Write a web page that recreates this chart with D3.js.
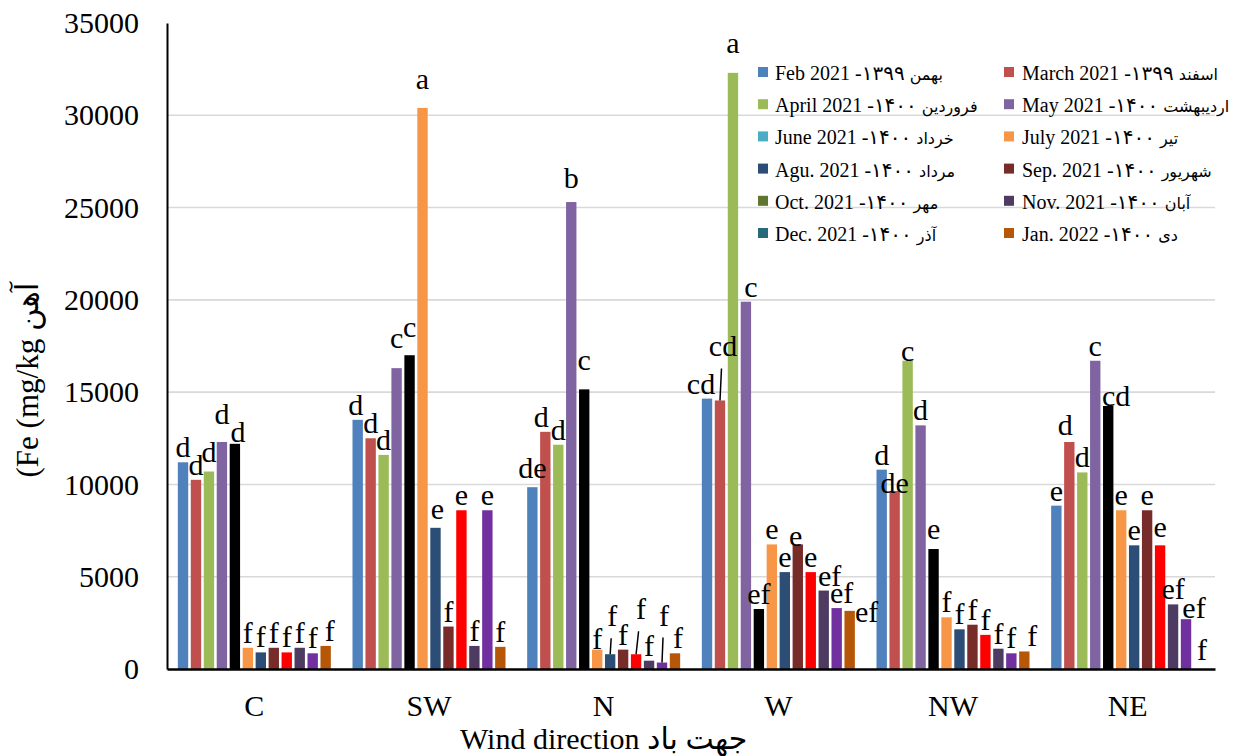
<!DOCTYPE html>
<html>
<head>
<meta charset="utf-8">
<script src="https://cdn.jsdelivr.net/npm/d3@7"></script>
<style>
  html, body { margin: 0; padding: 0; background: #fff; }
  svg { display: block; }
  text { font-family: "Liberation Serif", "Times New Roman", "DejaVu Sans", serif; fill: #000; }
</style>
</head>
<body>
<svg id="chart" width="1240" height="756"></svg>
<script>
// Wind-direction sectors
const categories = ["C", "SW", "N", "W", "NW", "NE"];

// Fe concentration (mg/kg) per sampling month, one value per sector
const feb = [11200, 13500, 9850, 14650, 10800, 8850];
const mar = [10250, 12500, 12850, 14550, 9650, 12300];
const apr = [10700, 11600, 12150, 32300, 16700, 10650];
const may = [12300, 16300, 25300, 19900, 13200, 16700];
const jun = [12200, 17000, 15150, 3250, 6500, 14250];
const jul = [1150, 30400, 1050, 6750, 2800, 8600];
const aug = [900, 7650, 800, 5250, 2150, 6700];
const sep = [1150, 2300, 1050, 6750, 2400, 8600];
const oct = [900, 8600, 800, 5250, 1850, 6700];
const nov = [1150, 1250, 450, 4250, 1100, 3500];
const dec = [850, 8600, 350, 3300, 850, 2700];
const jan = [1250, 1200, 850, 3150, 950, 0];

// Significance letters per month, one per sector
const lettersFeb = ["d", "d", "de", "cd", "d", "e"];
const lettersMar = ["d", "d", "d", "cd", "de", "d"];
const lettersApr = ["d", "d", "d", "a", "c", "d"];
const lettersMay = ["d", "c", "b", "c", "d", "c"];
const lettersJun = ["d", "c", "c", "ef", "e", "cd"];
const lettersJul = ["f", "a", "f", "e", "f", "e"];
const lettersAug = ["f", "e", "f", "e", "f", "e"];
const lettersSep = ["f", "f", "f", "e", "f", "e"];
const lettersOct = ["f", "e", "f", "e", "f", "e"];
const lettersNov = ["f", "f", "f", "ef", "f", "ef"];
const lettersDec = ["f", "e", "f", "ef", "f", "ef"];
const lettersJan = ["f", "f", "f", "ef", "f", "f"];

// Legend entries: Gregorian month with Persian year, then Persian month name
const monthLatin = [
  "Feb 2021 -\u06F1\u06F3\u06F9\u06F9", "March 2021 -\u06F1\u06F3\u06F9\u06F9",
  "April 2021 -\u06F1\u06F4\u06F0\u06F0", "May 2021 -\u06F1\u06F4\u06F0\u06F0",
  "June 2021 -\u06F1\u06F4\u06F0\u06F0", "July  2021 -\u06F1\u06F4\u06F0\u06F0",
  "Agu. 2021 -\u06F1\u06F4\u06F0\u06F0", "Sep. 2021 -\u06F1\u06F4\u06F0\u06F0",
  "Oct. 2021 -\u06F1\u06F4\u06F0\u06F0", "Nov. 2021 -\u06F1\u06F4\u06F0\u06F0",
  "Dec. 2021 -\u06F1\u06F4\u06F0\u06F0", "Jan. 2022 -\u06F1\u06F4\u06F0\u06F0"
];
const monthPersian = ["بهمن", "اسفند", "فروردین", "اردیبهشت", "خرداد", "تیر",
                      "مرداد", "شهریور", "مهر", "آبان", "آذر", "دی"];

const yTicks = [0, 5000, 10000, 15000, 20000, 25000, 30000, 35000];

const seriesValues = [feb, mar, apr, may, jun, jul, aug, sep, oct, nov, dec, jan];
const seriesLetters = [lettersFeb, lettersMar, lettersApr, lettersMay, lettersJun, lettersJul,
                       lettersAug, lettersSep, lettersOct, lettersNov, lettersDec, lettersJan];

// Bar fills and legend swatch fills (three months use a different bar colour)
const barColors = ["#4F81BD", "#C0504D", "#9BBB59", "#8064A2", "#000000", "#F79646",
                   "#2C4D75", "#772C2A", "#FF0000", "#4D3B62", "#7030A0", "#B65708"];
const swatchColors = ["#4F81BD", "#C0504D", "#9BBB59", "#8064A2", "#4BACC6", "#F79646",
                      "#2C4D75", "#772C2A", "#5F7530", "#4D3B62", "#276A7C", "#B65708"];

// Hand placement of crowded letters: [dx, dy] relative to the default spot
const labelNudge = {
  "C-2": [0, -5], "C-3": [0, -13], "C-4": [3, 3], "C-11": [4, 0],
  "SW-0": [-2, 0], "SW-3": [0, -15], "SW-4": [0, -13], "SW-5": [0, -14], "SW-6": [2, -4],
  "N-0": [0, -4], "N-1": [-4, 0], "N-3": [0, -9], "N-4": [0, -14], "N-5": [0, 4],
  "N-6": [2, -23], "N-8": [5, -30], "N-10": [2, -32], "N-11": [3, 0],
  "W-0": [-6, 0], "W-1": [3, -39], "W-2": [0, -15], "W-3": [5, 0], "W-7": [-2, 7],
  "W-9": [6, 0], "W-10": [5, 0], "W-11": [17, 16],
  "NW-1": [0, 7], "NW-2": [0, 5], "NW-4": [0, -5], "NW-11": [8, 0],
  "NE-1": [-4, -2], "NE-4": [8, 5], "NE-8": [0, -3], "NE-10": [8, 4], "NE-11": [3, -4]
};
const leaderLines = new Set(["N-6", "N-8", "N-10", "W-1"]);

const svg = d3.select("#chart");
svg.append("rect").attr("width", 1240).attr("height", 756).attr("fill", "#fff");

const plot = { left: 167, right: 1215, top: 23, bottom: 669 };

const y = d3.scaleLinear().domain([0, 35000]).range([plot.bottom, plot.top]);
const x0 = d3.scaleBand().domain(categories).range([plot.left, plot.right])
  .paddingInner(0.124).paddingOuter(0.062);
const x1 = d3.scaleBand().domain(d3.range(seriesValues.length))
  .range([0, x0.bandwidth()]).paddingInner(0.2);

// Horizontal gridlines
svg.append("g").selectAll("line")
  .data(yTicks.filter(t => t > 0 && t < 35000))
  .join("line")
  .attr("x1", plot.left).attr("x2", plot.right)
  .attr("y1", d => y(d)).attr("y2", d => y(d))
  .attr("stroke", "#d9d9d9").attr("stroke-width", 1.6);

// Bars
const groups = svg.append("g").selectAll("g")
  .data(categories)
  .join("g")
  .attr("transform", c => `translate(${x0(c)},0)`);

groups.selectAll("rect")
  .data((c, ci) => seriesValues.map((vals, si) => ({ c, si, v: vals[ci] })))
  .join("rect")
  .attr("x", d => x1(d.si))
  .attr("width", x1.bandwidth())
  .attr("y", d => y(d.v))
  .attr("height", d => y(0) - y(d.v))
  .attr("fill", d => barColors[d.si]);

// Significance letters
const letterData = [];
categories.forEach((c, ci) => {
  seriesValues.forEach((vals, si) => {
    const key = `${c}-${si}`;
    const n = labelNudge[key] || [0, 0];
    const bx = x0(c) + x1(si) + x1.bandwidth() / 2;
    const by = y(vals[ci]);
    letterData.push({ key, text: seriesLetters[si][ci], bx, by, lx: bx + n[0], ly: by - 5 + n[1] });
  });
});

svg.append("g").selectAll("line")
  .data(letterData.filter(d => leaderLines.has(d.key)))
  .join("line")
  .attr("x1", d => d.bx)
  .attr("y1", d => d.by)
  .attr("x2", d => d.bx + (d.lx - d.bx) * 0.5)
  .attr("y2", d => d.ly + 12)
  .attr("stroke", "#000").attr("stroke-width", 1.5);

svg.append("g").selectAll("text")
  .data(letterData)
  .join("text")
  .attr("x", d => d.lx)
  .attr("y", d => d.ly)
  .attr("text-anchor", "middle")
  .attr("font-size", 30)
  .text(d => d.text);

// Axes
const yAxis = svg.append("g")
  .attr("transform", `translate(${plot.left},0)`)
  .call(d3.axisLeft(y).tickValues(yTicks).tickFormat(d3.format("d"))
    .tickSizeInner(0).tickSizeOuter(0).tickPadding(28));
yAxis.select(".domain").attr("stroke", "#000").attr("stroke-width", 2);
yAxis.selectAll("text").attr("font-size", 30).attr("font-family", null);

const xAxis = svg.append("g")
  .attr("transform", `translate(0,${plot.bottom})`)
  .call(d3.axisBottom(x0).tickSizeInner(0).tickSizeOuter(0).tickPadding(26));
xAxis.select(".domain").attr("stroke", "#000").attr("stroke-width", 2.5);
xAxis.selectAll("text").attr("font-size", 30).attr("font-family", null);

// Axis titles
svg.append("text")
  .attr("x", 460).attr("y", 749)
  .attr("font-size", 30)
  .text("Wind direction جهت باد");

svg.append("text")
  .attr("transform", "translate(27,380) rotate(-90)")
  .attr("text-anchor", "middle")
  .attr("dy", "0.35em")
  .attr("font-size", 31)
  .text("(Fe (mg/kg آهن");

// Legend: two columns, months alternating
const legend = svg.append("g");
const legendItems = legend.selectAll("g")
  .data(monthLatin.map((name, i) => ({ name, fa: monthPersian[i], i })))
  .join("g")
  .attr("transform", d => {
    const col = d.i % 2, row = Math.floor(d.i / 2);
    return `translate(${col === 0 ? 758 : 1004},${73 + row * 32.2})`;
  });
legendItems.append("rect")
  .attr("x", 0).attr("y", -6).attr("width", 10).attr("height", 10)
  .attr("fill", d => swatchColors[d.i]);
const legendText = legendItems.append("text")
  .attr("x", d => d.i % 2 === 0 ? 17 : 18)
  .attr("y", 0)
  .attr("dy", "0.35em")
  .attr("font-size", 20);
legendText.append("tspan").text(d => d.name + " ");
legendText.append("tspan").attr("font-size", 16).text(d => d.fa);
</script>
</body>
</html>
